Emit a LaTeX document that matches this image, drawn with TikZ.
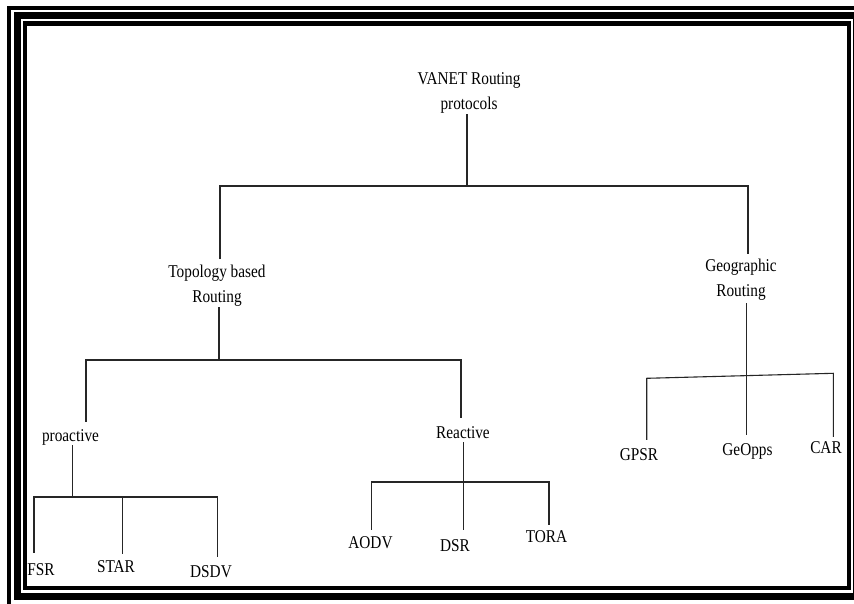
\documentclass[tikz,border=0pt]{standalone}
\usepackage{fontspec}
\setmainfont{Liberation Serif}[FakeStretch=0.85]
\usetikzlibrary{calc}
\begin{document}
\begin{tikzpicture}[x=1pt,y=-1pt,
  lbl/.style={inner sep=0pt, font=\fontsize{18}{25}\selectfont},
  lbltwo/.style={inner sep=0pt, font=\fontsize{18}{25}\selectfont, align=center},
  edge/.style={draw=black!85, line width=1.1pt},
  border/.style={draw=black}
]
\useasboundingbox (0,0) rectangle (854,603);
\clip (0,0) rectangle (854,603);
\fill[white] (0,0) rectangle (854,603);
% triple frame
\draw[border, line width=4pt] (9,8) rectangle (866,608);
\draw[border, line width=7pt] (17.5,15.5) rectangle (856.5,596.5);
\draw[border, line width=4.5pt] (25,23.5) rectangle (849,588);

% labels
\node[lbltwo, anchor=south] (root) at (469,114) {VANET Routing\\protocols};
\node[lbltwo, anchor=south] (topo) at (217,307) {Topology based\\Routing};
\node[lbltwo, anchor=south] (geo) at (741,301) {Geographic\\Routing};
\node[lbl, anchor=base] (pro) at (70.5,441) {proactive};
\node[lbl, anchor=base] (rea) at (463,438) {Reactive};
\node[lbl, anchor=base] (fsr) at (41,575) {FSR};
\node[lbl, anchor=base] (star) at (116,572.5) {STAR};
\node[lbl, anchor=base] (dsdv) at (211,577) {DSDV};
\node[lbl, anchor=base] (aodv) at (370.5,548) {AODV};
\node[lbl, anchor=base] (dsr) at (455,551) {DSR};
\node[lbl, anchor=base] (tora) at (546.5,542) {TORA};
\node[lbl, anchor=base] (gpsr) at (639,460) {GPSR};
\node[lbl, anchor=base] (geopps) at (747.5,455) {GeOpps};
\node[lbl, anchor=base] (car) at (826,453) {CAR};

% junctions
\coordinate (j0) at (467,186);
\coordinate (j0L) at (220,186);
\coordinate (j0R) at (748,186);
\coordinate (j1) at (219,360);
\coordinate (j1L) at (86,360);
\coordinate (j1R) at (461,360);
\coordinate (j2) at (72.3,497);
\coordinate (j2L) at (34,497);
\coordinate (j2M) at (122.7,497);
\coordinate (j2R) at (217.3,497);
\coordinate (j3) at (463.5,482);
\coordinate (j3L) at (371.7,482);
\coordinate (j3R) at (549,482);
\coordinate (j4L) at (646.7,378.3);
\coordinate (j4M) at (746.7,375.8);
\coordinate (j4R) at (833.3,373.3);

% level 1
\draw[edge] (j0 |- root.south) -- (j0);
\draw[edge] ($(j0L |- topo.north)+(0,-6)$) -- (j0L) -- (j0R) -- ($(j0R |- geo.north)+(0,-5)$);
% topology subtree
\draw[edge] (j1 |- topo.south) -- (j1);
\draw[edge] ($(j1L |- pro.north)+(0,-7)$) -- (j1L) -- (j1R) -- ($(j1R |- rea.north)+(0,-7.7)$);
% proactive
\draw[edge] (j2 |- pro.south) -- (j2);
\draw[edge] ($(j2L |- fsr.north)+(0,-10)$) -- (j2L) -- (j2R) -- ($(j2R |- dsdv.north)+(0,-8)$);
\draw[edge] (j2M) -- ($(j2M |- star.north)+(0,-6.7)$);
% reactive
\draw[edge] ($(j3 |- rea.south)+(0,3.7)$) -- ($(j3 |- dsr.north)+(0,-8.7)$);
\draw[edge] ($(j3L |- aodv.north)+(0,-6)$) -- (j3L) -- (j3R) -- ($(j3R |- tora.north)+(0,-4.7)$);
% geographic
\draw[edge] ($(j4M |- geo.south)+(0,2)$) -- ($(j4M |- geopps.north)+(0,-8)$);
\draw[edge] ($(j4L |- gpsr.north)+(0,-8)$) -- (j4L) -- (j4R) -- ($(j4R |- car.north)+(0,-4)$);
\end{tikzpicture}
\end{document}
